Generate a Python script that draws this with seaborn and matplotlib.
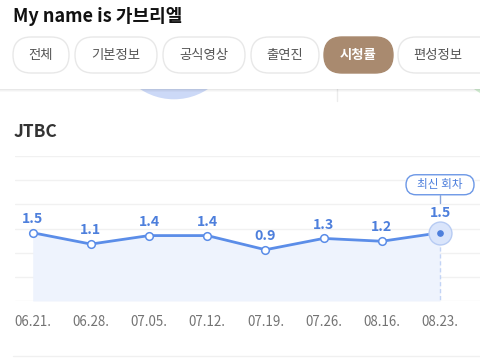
import numpy as np
import matplotlib
matplotlib.use("Agg")
import matplotlib.pyplot as plt
import seaborn as sns
from matplotlib.patches import FancyBboxPatch, Circle, Rectangle

# ---- data ----
dates = ["06.21.", "06.28.", "07.05.", "07.12.", "07.19.", "07.26.", "08.16.", "08.23."]
ratings = [1.5, 1.1, 1.4, 1.4, 0.9, 1.3, 1.2, 1.5]
tabs = ["전체", "기본정보", "공식영상", "출연진", "시청률", "편성정보"]
active_tab = "시청률"
page_title = "My name is 가브리엘"
channel = "JTBC"
latest_label = "최신 회차"

sns.set_theme(style="white")
FONT = ["Noto Sans CJK KR", "DejaVu Sans"]
plt.rcParams["font.family"] = FONT

W, H = 480, 364
fig = plt.figure(figsize=(4.8, 3.64), dpi=100)
fig.patch.set_facecolor("white")

# background axes in pixel coordinates
bg = fig.add_axes([0, 0, 1, 1], zorder=0)
bg.set_xlim(0, W)
bg.set_ylim(H, 0)
bg.axis("off")


def pill(target, x0, y0, w, h, fc, ec, lw=1, z=3):
    target.add_patch(FancyBboxPatch((x0, y0), w, h,
                                    boxstyle=f"round,pad=0,rounding_size={h / 2}",
                                    fc=fc, ec=ec, lw=lw, zorder=z,
                                    transform=bg.transData, clip_on=False))


# decorative circles peeking below the header
bg.add_patch(Circle((174, 38), 61.3, color="#ccd9f7", zorder=1, lw=0))
bg.add_patch(Circle((512, 40), 62, color="#d3efd3", zorder=1, lw=0))
bg.plot([337, 337], [89, 101], color="#ececec", lw=1, zorder=1)

# header
bg.add_patch(Rectangle((0, 0), W, 89, color="white", zorder=2, lw=0))
for k, a in enumerate([0.09, 0.05, 0.025]):
    bg.add_patch(Rectangle((0, 89 + k), W, 1, color="black", alpha=a, zorder=2, lw=0))
bg.text(13, 17, page_title, fontsize=13, fontweight="bold", color="#111111",
        va="center", ha="left", zorder=3, family=FONT)

pill_x = [(13, 69), (75, 157), (163, 245), (251, 319), (324, 393), (398, 500)]
text_x = [41, 116, 204, 285, 358.5, 438]
for name, (x0, x1), tx in zip(tabs, pill_x, text_x):
    active = name == active_tab
    fc = "#a98a6f" if active else "white"
    ec = "#a98a6f" if active else "#e8e8e8"
    pill(bg, x0, 37, x1 - x0, 36, fc, ec)
    bg.text(tx, 55.5, name,
            fontsize=9.6, color="white" if active else "#555555",
            fontweight="bold" if active else "normal",
            ha="center", va="center", zorder=4, family=FONT)

bg.text(14, 132, channel, fontsize=12.5, fontweight="bold", color="#333333",
        ha="left", va="center", zorder=3, family=FONT)
bg.plot([13, W], [356, 356], color="#f0f0f0", lw=1, zorder=1)

# ---- chart axes ----
y_bot, y_top = -0.91, 4.21
ax = fig.add_axes([15 / W, 1 - 301 / H, 1 - 15 / W, (301 - 156) / H], zorder=5)
ax.patch.set_alpha(0)
idx = np.arange(len(dates))
line_c = "#5b8de8"
txt_c = "#4d7fdc"

ax.fill_between(idx, ratings, y_bot, color="#eef3fd", lw=0, zorder=1)
sns.lineplot(x=idx, y=ratings, ax=ax, color=line_c, lw=2.0, zorder=3,
             marker="o", markersize=5.5, markerfacecolor="white",
             markeredgecolor=line_c, markeredgewidth=1.1)
ax.plot([idx[-1], idx[-1]], [ratings[-1], y_bot], color="#c3d4f5", lw=1,
        ls=(0, (3, 2)), zorder=2)
# highlight last point
ax.plot(idx[-1], ratings[-1], "o", ms=16.5, mfc="#dae5fb", mec="#b7cbf3", mew=1, zorder=4)
ax.plot(idx[-1], ratings[-1], "o", ms=3.8, mfc="#4d7fdc", mec="#4d7fdc", zorder=5)

for i, (x, v) in enumerate(zip(idx, ratings)):
    off = 14.4 if i == len(idx) - 1 else 10
    ax.annotate(f"{v:.1f}", (x, v), xytext=(0, off), textcoords="offset points",
                ha="center", va="center", fontsize=10.2, fontweight="bold",
                color=txt_c, family=FONT, zorder=6)

ax.set_xlim(-0.304, 7.687)
ax.set_ylim(y_bot, y_top)
ax.set_yticks(np.linspace(y_bot, y_top, 7))
ax.set_yticklabels([])
ax.set_xticks(idx)
ax.set_xticklabels(dates, fontsize=9.6, color="#737373", family=FONT)
ax.tick_params(axis="both", length=0)
ax.tick_params(axis="x", pad=10)
ax.grid(axis="y", color="#f1f1f1", lw=1)
ax.set_axisbelow(True)
for s in ax.spines.values():
    s.set_visible(False)
ax.set_xlabel("")
ax.set_ylabel("")

# latest episode callout, anchored on the last data point
px, py = ax.transData.transform((idx[-1], ratings[-1]))
cx, cy = px, H - py
pill(ax, cx - 34, cy - 58, 68, 20, "white", "#6b97e6", lw=1, z=8)
ax.text(cx, cy - 48, latest_label, fontsize=8.4, fontweight="medium", color=txt_c,
        ha="center", va="center", zorder=9, family=FONT, transform=bg.transData,
        clip_on=False)
ax.plot([cx, cx], [cy - 38, cy - 30], color="#8aa6db", lw=1, zorder=8,
        transform=bg.transData, clip_on=False)

fig.savefig("out.png", dpi=100, facecolor="white")
